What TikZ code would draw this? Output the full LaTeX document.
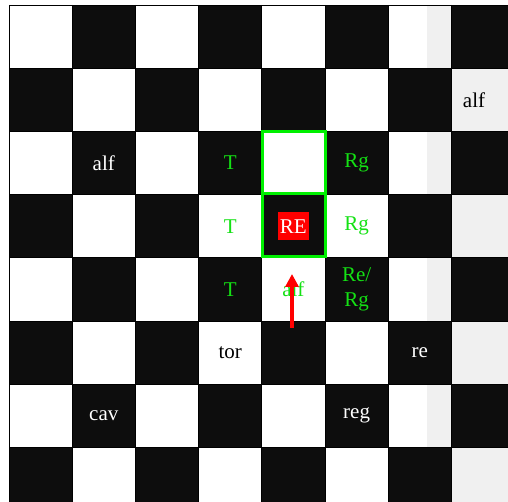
\documentclass[tikz,border=0pt]{standalone}
\usepackage{fontspec}
\setmainfont{Liberation Serif}
\usetikzlibrary{arrows.meta}

\definecolor{casascura}{RGB}{13,13,13}
\definecolor{casagrigia}{RGB}{240,240,240}
\definecolor{verdetesto}{RGB}{20,225,20}
\definecolor{verdebordo}{RGB}{0,240,0}
\definecolor{rosso}{RGB}{255,0,0}

\begin{document}
\begin{tikzpicture}[x=1pt,y=-1pt,
  every node/.style={font=\fontsize{21}{25}\selectfont,inner sep=0pt},
  bianco/.style={text=white},
  nero/.style={text=black},
  verde/.style={text=verdetesto},
  re/.style={text=white,fill=rosso,inner xsep=2pt,minimum height=28pt}]

\useasboundingbox (0,0) rectangle (508,502);
\clip (0,0) rectangle (508,502);

% Light squares and grey strip
\fill[white] (9,5) rectangle (520,520);
\fill[casagrigia] (427,5) rectangle (520,520);

% Dark squares and square centres
\foreach \r in {0,...,7}
  \foreach \c in {0,...,7} {
    \pgfmathtruncatemacro{\dispari}{mod(\r+\c,2)}
    \ifnum\dispari=1
      \fill[casascura] ({9+63.2*\c},{5+63.2*\r}) rectangle ++(63.2,63.2);
    \fi
    \coordinate (sq-\r-\c) at ({9+63.2*(\c+0.5)},{5+63.2*(\r+0.5)});
  }

% Grid
\foreach \i in {0,...,8} {
  \draw[black,line width=0.8pt] ({9+63.2*\i},5) -- ({9+63.2*\i},520);
  \draw[black,line width=0.8pt] (9,{5+63.2*\i}) -- (520,{5+63.2*\i});
}

% Pieces
\node[nero] (alfnero) at ([xshift=-9pt]sq-1-7) {alf};
\node[bianco] (alfbianco) at (sq-2-1) {alf};
\node[verde] (t1) at (sq-2-3) {T};
\node[verde] (rg1) at (sq-2-5) {Rg};
\node[verde] (t2) at (sq-3-3) {T};
\node[re] (rebox) at (sq-3-4) {RE};
\node[verde] (rg2) at (sq-3-5) {Rg};
\node[verde] (t3) at (sq-4-3) {T};
\node[verde] (alfverde) at (sq-4-4) {alf};
\node[verde,align=center] (rerg) at (sq-4-5) {Re/\\Rg};
\node[nero] (tor) at (sq-5-3) {tor};
\node[bianco] (renero) at (sq-5-6) {re};
\node[bianco] (cav) at (sq-6-1) {cav};
\node[bianco] (reg) at (sq-6-5) {reg};

% Green frame
\draw[verdebordo,line width=3pt] (262.5,131.5) rectangle (325.5,257);
\draw[verdebordo,line width=3pt] (262.5,194) -- (325.5,194);

% Move
\coordinate (coda) at (292,328);
\coordinate (punta) at (292,274);
\draw[rosso,line width=4pt,-{Triangle[length=13pt,width=13pt]}] (coda) -- (punta);

\end{tikzpicture}
\end{document}
